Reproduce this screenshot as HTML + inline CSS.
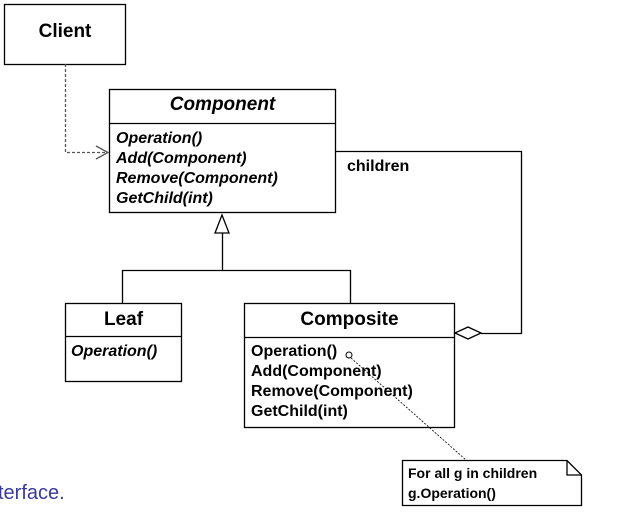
<!DOCTYPE html>
<html><head><style>
body{margin:0;width:624px;height:517px;background:#fff;overflow:hidden;position:relative;font-family:"Liberation Sans",Arial,sans-serif;}
.t{position:absolute;font-weight:bold;color:#000;white-space:nowrap;}
</style></head><body>
<svg width="624" height="517" style="position:absolute;left:0;top:0">
<g fill="none" stroke="#000" stroke-width="1.3">
<rect x="4.5" y="4.5" width="121" height="60"/>
<rect x="109.5" y="89.5" width="226" height="123"/>
<line x1="109" y1="123.5" x2="336" y2="123.5"/>
<rect x="65.5" y="303.5" width="116" height="78"/>
<line x1="65" y1="336.5" x2="182" y2="336.5"/>
<rect x="244.5" y="303.5" width="210" height="124"/>
<line x1="244" y1="337.5" x2="455" y2="337.5"/>
<polyline points="65.5,64 65.5,152.5 108,152.5" stroke="#555" stroke-dasharray="3,2"/>
<polyline points="96,146 108,152.5 96,159" stroke="#555"/>
<polygon points="222,215 215,233 229,233" fill="#fff"/>
<line x1="222.5" y1="233" x2="222.5" y2="270.5"/>
<polyline points="122.5,303 122.5,270.5 350.5,270.5 350.5,303"/>
<polygon points="455,333 468,327 481,333 468,339" fill="#fff"/>
<polyline points="481,333.5 521.5,333.5 521.5,151.5 336,151.5"/>
<circle cx="349" cy="355" r="3" stroke-width="1"/>
<line x1="351" y1="358" x2="466" y2="460" stroke-width="0.8" stroke-dasharray="2,1.5"/>
<polygon points="402.5,460.5 567,460.5 581.5,475 581.5,505.5 402.5,505.5" fill="#fff"/>
<polyline points="567,460.5 567,475 581.5,475"/>
</g>
</svg>
<div class="t" style="left:4px;top:21px;width:122px;text-align:center;font-size:19px">Client</div>
<div class="t" style="left:109px;top:94px;width:227px;text-align:center;font-size:19px;font-style:italic">Component</div>
<div class="t" style="left:116px;top:129px;font-size:16px;font-style:italic;line-height:20px">Operation()<br>Add(Component)<br>Remove(Component)<br>GetChild(int)</div>
<div class="t" style="left:347px;top:158px;font-size:16px">children</div>
<div class="t" style="left:65px;top:309px;width:117px;text-align:center;font-size:19px">Leaf</div>
<div class="t" style="left:71px;top:343px;font-size:16px;font-style:italic">Operation()</div>
<div class="t" style="left:244px;top:309px;width:211px;text-align:center;font-size:19px">Composite</div>
<div class="t" style="left:251px;top:342px;font-size:16px;line-height:20px">Operation()<br>Add(Component)<br>Remove(Component)<br>GetChild(int)</div>
<div class="t" style="left:408px;top:463px;font-size:14px;line-height:20px">For all g in children<br>g.Operation()</div>
<div style="position:absolute;left:-2px;top:482px;font-size:20px;color:#3a3a9a;font-family:'Liberation Sans',sans-serif">terface.</div>
</body></html>
